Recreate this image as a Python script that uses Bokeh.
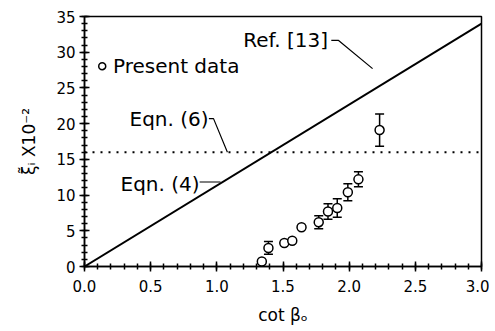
from bokeh.plotting import figure
from bokeh.models import (ColumnDataSource, Whisker, Span, Label, FixedTicker,
                          NumeralTickFormatter, Range1d, TeeHead)
from bokeh.embed import file_html
from bokeh.resources import INLINE

# ---- data ----
data_x = [1.34, 1.39, 1.51, 1.57, 1.64, 1.77, 1.84, 1.91, 1.99, 2.07, 2.23]
data_y = [0.7, 2.6, 3.3, 3.6, 5.5, 6.2, 7.7, 8.2, 10.4, 12.2, 19.1]
data_err = [0.0, 0.9, 0.0, 0.0, 0.0, 0.9, 1.1, 1.3, 1.2, 1.05, 2.25]

line_x = [0.0, 3.0]
line_y = [0.0, 34.0]

eqn6_level = 16.0

x_ticks = [0.0, 0.5, 1.0, 1.5, 2.0, 2.5, 3.0]
y_ticks = [0, 5, 10, 15, 20, 25, 30, 35]

FONT = "DejaVu Sans"

p = figure(width=489, height=327, output_backend="svg", toolbar_location=None,
           x_range=Range1d(0, 3.0), y_range=Range1d(0, 35),
           min_border_left=84, min_border_top=16, min_border_right=8,
           min_border_bottom=61)
p.xgrid.visible = False
p.ygrid.visible = False
p.outline_line_color = "black"
p.outline_line_width = 1.5
p.background_fill_color = "white"
p.border_fill_color = "white"

# axes
p.xaxis.ticker = FixedTicker(ticks=x_ticks,
                             minor_ticks=[round(i * 0.1, 2) for i in range(31)])
p.yaxis.ticker = FixedTicker(ticks=y_ticks, minor_ticks=list(range(36)))
p.xaxis.formatter = NumeralTickFormatter(format="0.0")
for ax in (p.xaxis, p.yaxis):
    ax.axis_line_width = 1.5
    ax.axis_line_color = "black"
    ax.major_tick_line_width = 1.5
    ax.minor_tick_line_width = 1.5
    ax.major_tick_in = 5
    ax.major_tick_out = 5
    ax.minor_tick_in = 3
    ax.minor_tick_out = 3
    ax.major_label_text_font = FONT
    ax.major_label_text_font_size = "15px"
    ax.major_label_text_color = "black"
    ax.axis_label_text_font = FONT
    ax.axis_label_text_font_style = "normal"
    ax.axis_label_text_color = "black"
    ax.axis_label_text_font_size = "17px"
p.xaxis.axis_label = "cot βₒ"
p.yaxis.axis_label = "ξ̃ᵢ X10⁻²"
p.xaxis.major_label_standoff = 8
p.yaxis.major_label_standoff = 4
p.xaxis.axis_label_standoff = 10
p.yaxis.axis_label_standoff = 14

# main line (Eqn. (4) / Ref. [13])
p.line(line_x, line_y, line_color="black", line_width=2)

# Eqn. (6) dotted line
p.add_layout(Span(location=eqn6_level, dimension="width", line_color="black",
                  line_width=2, line_dash="2 6"))

# data with error bars
src = ColumnDataSource(dict(x=data_x, y=data_y,
                            lo=[y - e for y, e in zip(data_y, data_err)],
                            hi=[y + e for y, e in zip(data_y, data_err)]))
w = Whisker(base="x", lower="lo", upper="hi", source=src, line_width=1.5,
            line_color="black",
            upper_head=TeeHead(size=9, line_width=1.5, line_color="black"),
            lower_head=TeeHead(size=9, line_width=1.5, line_color="black"))
p.add_layout(w)
p.scatter("x", "y", source=src, size=9, marker="circle", fill_color="white",
          line_color="black", line_width=1.5)

# legend
p.scatter([0.134], [28.05], size=7, marker="circle", fill_color="white",
          line_color="black", line_width=1.5)
p.add_layout(Label(x=0.215, y=28.05, text="Present data", text_font=FONT,
                   text_font_size="20px", text_baseline="middle",
                   text_align="left", text_color="black"))

# annotations
def note(tx, ty, text, lx, ly):
    p.add_layout(Label(x=tx, y=ty, text=text, text_font=FONT,
                       text_font_size="20px", text_baseline="middle",
                       text_align="left", text_color="black"))
    p.line(lx, ly, line_color="black", line_width=1.2)

note(1.20, 31.65, "Ref. [13]", [1.865, 1.92, 2.177], [31.65, 31.65, 27.7])
note(0.34, 20.7, "Eqn. (6)", [0.94, 0.975, 1.08], [20.7, 20.7, 16.0])
note(0.272, 11.6, "Eqn. (4)", [0.87, 1.028], [11.83, 11.83])

open("out.html", "w").write(file_html(p, INLINE))
